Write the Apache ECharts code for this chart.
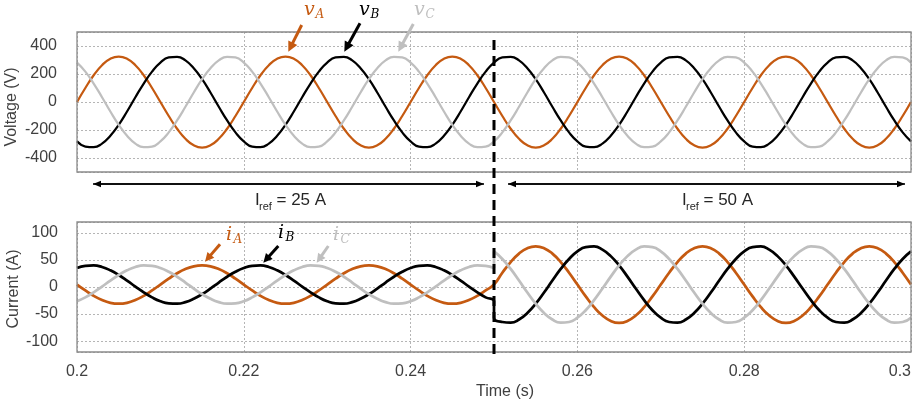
<!DOCTYPE html>
<html><head><meta charset="utf-8">
<script src="https://cdn.jsdelivr.net/npm/echarts@6/dist/echarts.min.js"></script>
<style>html,body{margin:0;padding:0;background:#fff}#c{width:914px;height:405px}</style>
</head><body><div id="c"></div>
<script>
// ---------- data ----------
const time = [0.200,0.201,0.202,0.203,0.204,0.205,0.206,0.207,0.208,0.209,
 0.210,0.211,0.212,0.213,0.214,0.215,0.216,0.217,0.218,0.219,
 0.220,0.221,0.222,0.223,0.224,0.225,0.226,0.227,0.228,0.229,
 0.230,0.231,0.232,0.233,0.234,0.235,0.236,0.237,0.238,0.239,
 0.240,0.241,0.242,0.243,0.244,0.245,0.246,0.247,0.248,0.249,
 0.250,0.251,0.252,0.253,0.254,0.255,0.256,0.257,0.258,0.259,
 0.260,0.261,0.262,0.263,0.264,0.265,0.266,0.267,0.268,0.269,
 0.270,0.271,0.272,0.273,0.274,0.275,0.276,0.277,0.278,0.279,
 0.280,0.281,0.282,0.283,0.284,0.285,0.286,0.287,0.288,0.289,
 0.290,0.291,0.292,0.293,0.294,0.295,0.296,0.297,0.298,0.299,
 0.300];

const vA = [0,100,191,263,309,325,309,263,191,100,0,-100,-191,-263,-309,-325,-309,-263,-191,-100,
 0,100,191,263,309,325,309,263,191,100,0,-100,-191,-263,-309,-325,-309,-263,-191,-100,
 0,100,191,263,309,325,309,263,191,100,0,-100,-191,-263,-309,-325,-309,-263,-191,-100,
 0,100,191,263,309,325,309,263,191,100,0,-100,-191,-263,-309,-325,-309,-263,-191,-100,
 0,100,191,263,309,325,309,263,191,100,0,-100,-191,-263,-309,-325,-309,-263,-191,-100,
 0];
const vB = [-281,-318,-323,-297,-241,-163,-68,34,132,217,281,318,323,297,241,163,68,-34,-132,-217,
 -281,-318,-323,-297,-241,-163,-68,34,132,217,281,318,323,297,241,163,68,-34,-132,-217,
 -281,-318,-323,-297,-241,-163,-68,34,132,217,281,318,323,297,241,163,68,-34,-132,-217,
 -281,-318,-323,-297,-241,-163,-68,34,132,217,281,318,323,297,241,163,68,-34,-132,-217,
 -281,-318,-323,-297,-241,-163,-68,34,132,217,281,318,323,297,241,163,68,-34,-132,-217,
 -281];
const vC = [281,217,132,34,-68,-163,-241,-297,-323,-318,-281,-217,-132,-34,68,163,241,297,323,318,
 281,217,132,34,-68,-163,-241,-297,-323,-318,-281,-217,-132,-34,68,163,241,297,323,318,
 281,217,132,34,-68,-163,-241,-297,-323,-318,-281,-217,-132,-34,68,163,241,297,323,318,
 281,217,132,34,-68,-163,-241,-297,-323,-318,-281,-217,-132,-34,68,163,241,297,323,318,
 281,217,132,34,-68,-163,-241,-297,-323,-318,-281,-217,-132,-34,68,163,241,297,323,318,
 281];

// currents: before the step (0.200..0.250) and after the step (0.250..0.300)
const currentTimePre = time.slice(0, 51);
const currentTimePost = time.slice(50);
const iApre = [4.5,-6.4,-16.3,-24.1,-29.2,-30.9,-29.2,-24.1,-16.3,-6.4,
 4.5,15.4,25.3,33.1,38.2,39.9,38.2,33.1,25.3,15.4,
 4.5,-6.4,-16.3,-24.1,-29.2,-30.9,-29.2,-24.1,-16.3,-6.4,
 4.5,15.4,25.3,33.1,38.2,39.9,38.2,33.1,25.3,15.4,
 4.5,-6.4,-16.3,-24.1,-29.2,-30.9,-29.2,-24.1,-16.3,-6.4,
 4.5];
const iApost = [4.5,26.3,46.1,61.7,71.7,75.2,71.7,61.7,46.1,26.3,
 4.5,-17.3,-37.1,-52.7,-62.7,-66.2,-62.7,-52.7,-37.1,-17.3,
 4.5,26.3,46.1,61.7,71.7,75.2,71.7,61.7,46.1,26.3,
 4.5,-17.3,-37.1,-52.7,-62.7,-66.2,-62.7,-52.7,-37.1,-17.3,
 4.5,26.3,46.1,61.7,71.7,75.2,71.7,61.7,46.1,26.3,
 4.5];
const iBpre = [35.2,39.1,39.7,36.9,30.8,22.2,11.9,0.8,-9.9,-19.2,
 -26.2,-30.1,-30.7,-27.9,-21.8,-13.2,-2.9,8.2,18.9,28.2,
 35.2,39.1,39.7,36.9,30.8,22.2,11.9,0.8,-9.9,-19.2,
 -26.2,-30.1,-30.7,-27.9,-21.8,-13.2,-2.9,8.2,18.9,28.2,
 35.2,39.1,39.7,36.9,30.8,22.2,11.9,0.8,-9.9,-19.2,
 -26.2];
const iBpost = [-56.7,-64.6,-65.8,-60.1,-48.0,-30.9,-10.2,11.9,33.3,51.8,
 65.7,73.6,74.8,69.1,57.0,39.9,19.2,-2.9,-24.3,-42.8,
 -56.7,-64.6,-65.8,-60.1,-48.0,-30.9,-10.2,11.9,33.3,51.8,
 65.7,73.6,74.8,69.1,57.0,39.9,19.2,-2.9,-24.3,-42.8,
 -56.7,-64.6,-65.8,-60.1,-48.0,-30.9,-10.2,11.9,33.3,51.8,
 65.7];
const iCpre = [-26.2,-19.2,-9.9,0.8,11.9,22.2,30.8,36.9,39.7,39.1,
 35.2,28.2,18.9,8.2,-2.9,-13.2,-21.8,-27.9,-30.7,-30.1,
 -26.2,-19.2,-9.9,0.8,11.9,22.2,30.8,36.9,39.7,39.1,
 35.2,28.2,18.9,8.2,-2.9,-13.2,-21.8,-27.9,-30.7,-30.1,
 -26.2,-19.2,-9.9,0.8,11.9,22.2,30.8,36.9,39.7,39.1,
 35.2];
const iCpost = [65.7,51.8,33.3,11.9,-10.2,-30.9,-48.0,-60.1,-65.8,-64.6,
 -56.7,-42.8,-24.3,-2.9,19.2,39.9,57.0,69.1,74.8,73.6,
 65.7,51.8,33.3,11.9,-10.2,-30.9,-48.0,-60.1,-65.8,-64.6,
 -56.7,-42.8,-24.3,-2.9,19.2,39.9,57.0,69.1,74.8,73.6,
 65.7,51.8,33.3,11.9,-10.2,-30.9,-48.0,-60.1,-65.8,-64.6,
 -56.7];
const stepTime = 0.25;
const xTicks = {min: 0.2, max: 0.3, interval: 0.02};
const vRange = {min: -500, max: 500};
const iRange = {min: -120, max: 120};

// ---------- styling ----------
const C_A = '#C55A11', C_B = '#000000', C_C = '#BFBFBF';
const TXT = '#404040';
const SANS = 'Liberation Sans', MATH = 'DejaVu Serif';
const G1 = {left: 77, top: 32, width: 834, height: 140};
const G2 = {left: 77, top: 222, width: 834, height: 130};

const split = {show: true, lineStyle: {color: '#b5b5b5', type: [2, 2], width: 1}};
const lab = {fontFamily: SANS, fontSize: 16, color: TXT};

function pairs(xs, ys) { return xs.map((x, i) => [x, ys[i]]); }
const tI = currentTimePre.concat(currentTimePost);

function lineSeries(name, data, color, g, w) {
  return {name, type: 'line', xAxisIndex: g, yAxisIndex: g, data, smooth: true,
    showSymbol: false, symbol: 'none', silent: true,
    lineStyle: {color, width: w}, itemStyle: {color}};
}

const option = {
  animation: false,
  backgroundColor: '#fff',
  grid: [Object.assign({}, G1), Object.assign({}, G2)],
  xAxis: [
    Object.assign({gridIndex: 0, type: 'value', axisLine: {show: false}, axisTick: {show: false},
      axisLabel: {show: false}, splitLine: split}, xTicks),
    Object.assign({gridIndex: 1, type: 'value', axisLine: {show: false}, axisTick: {show: false},
      axisLabel: Object.assign({margin: 12, alignMaxLabel: 'right',
        formatter: v => String(parseFloat(v.toFixed(3)))}, lab), splitLine: split}, xTicks)
  ],
  yAxis: [
    Object.assign({gridIndex: 0, type: 'value', axisLine: {show: false}, axisTick: {show: false},
      axisLabel: Object.assign({margin: 20, formatter: v => Math.abs(v) >= 500 ? '' : String(v)}, lab),
      splitLine: split}, vRange),
    Object.assign({gridIndex: 1, type: 'value', axisLine: {show: false}, axisTick: {show: false},
      axisLabel: Object.assign({margin: 19, formatter: v => Math.abs(v) >= 120 ? '' : String(v)}, lab),
      splitLine: split}, iRange)
  ],
  series: [
    lineSeries('vA', pairs(time, vA), C_A, 0, 2.25),
    lineSeries('vB', pairs(time, vB), C_B, 0, 2.25),
    lineSeries('vC', pairs(time, vC), C_C, 0, 2.25),
    lineSeries('iA', pairs(tI, iApre.concat(iApost)), C_A, 1, 2.75),
    lineSeries('iB', pairs(tI, iBpre.concat(iBpost)), C_B, 1, 2.75),
    lineSeries('iC', pairs(tI, iCpre.concat(iCpost)), C_C, 1, 2.75)
  ]
};

const chart = echarts.init(document.getElementById('c'), null, {renderer: 'canvas'});
chart.setOption(option);

// ---------- annotations ----------
function arrow(x1, y1, x2, y2, color, lw, L, W) {
  const dx = x2 - x1, dy = y2 - y1, len = Math.hypot(dx, dy);
  const ux = dx / len, uy = dy / len, nx = -uy, ny = ux;
  const bx = x2 - ux * L, by = y2 - uy * L;
  return [
    {type: 'line', z: 110, silent: true, shape: {x1, y1, x2: bx + ux, y2: by + uy},
      style: {stroke: color, lineWidth: lw}},
    {type: 'polygon', z: 110, silent: true,
      shape: {points: [[x2, y2], [bx + nx * W, by + ny * W], [bx - nx * W, by - ny * W]]},
      style: {fill: color}}
  ];
}
function dblArrow(xa, xb, y, color) {
  return arrow(xb, y, xa, y, color, 1.5, 8, 3.2).concat(arrow(xa, y, xb, y, color, 1.5, 8, 3.2));
}
function txt(x, y, text, size, family, color, opts) {
  return Object.assign({type: 'text', x, y, z: 120, silent: true,
    style: Object.assign({text, fontSize: size, fontFamily: family, fill: color,
      textAlign: 'left', align: 'left', textVerticalAlign: 'middle', verticalAlign: 'middle'},
      (opts && opts.style) || {})}, (opts && opts.el) || {});
}
function mathLbl(x, yMain, main, sub, color, size, subSize, xOff, yOff) {
  return [
    txt(x, yMain, main, size, MATH, color, {style: {fontStyle: 'italic'}}),
    txt(x + xOff, yMain + yOff, sub, subSize, MATH, color, {style: {fontStyle: 'italic'}})
  ];
}
function irefLbl(x, y, rest) {
  return [
    txt(x, y, 'I', 17, SANS, '#262626'),
    txt(x + 4, y + 6.5, 'ref', 11, SANS, '#262626'),
    txt(x + 21.5, y, rest, 17, SANS, '#262626')
  ];
}

const xs = chart.convertToPixel({xAxisIndex: 0}, stepTime);
const g = [];
// plot frames
[G1, G2].forEach(G => g.push({type: 'rect', z: 100, silent: true,
  shape: {x: G.left, y: G.top, width: G.width, height: G.height},
  style: {fill: null, stroke: '#8a8a8a', lineWidth: 1.3}}));
// step marker
g.push({type: 'line', z: 115, silent: true, shape: {x1: xs, y1: 40, x2: xs, y2: 356},
  style: {stroke: '#000', lineWidth: 3, lineDash: [10, 6]}});
// I_ref span arrows
g.push(...dblArrow(93, 484, 184, '#000'));
g.push(...dblArrow(508, 905, 184, '#000'));
g.push(...irefLbl(255, 200, '= 25 A'));
g.push(...irefLbl(682, 200, '= 50 A'));
// axis titles
g.push(txt(12, 107, 'Voltage (V)', 16, SANS, TXT,
  {style: {textAlign: 'center', align: 'center'}, el: {rotation: Math.PI / 2}}));
g.push(txt(13.5, 289, 'Current (A)', 16, SANS, TXT,
  {style: {textAlign: 'center', align: 'center'}, el: {rotation: Math.PI / 2}}));
g.push(txt(476, 392, 'Time (s)', 16, SANS, TXT));
// voltage labels + arrows
g.push(...mathLbl(304, 10, 'v', 'A', C_A, 19, 12, 11.5, 5));
g.push(...mathLbl(359, 10, 'v', 'B', C_B, 19, 12, 11.5, 5));
g.push(...mathLbl(414, 10, 'v', 'C', C_C, 19, 12, 11.5, 5));
g.push(...arrow(301.7, 25, 288.3, 51.7, C_A, 3, 10, 5));
g.push(...arrow(360, 23.3, 344.3, 51.7, C_B, 3, 10, 5));
g.push(...arrow(413.3, 24, 398.3, 51.7, C_C, 3, 10, 5));
// current labels + arrows
g.push(...mathLbl(226, 235, 'i', 'A', C_A, 19, 12, 7.5, 5));
g.push(...mathLbl(278, 233, 'i', 'B', C_B, 19, 12, 7.5, 5));
g.push(...mathLbl(333, 235, 'i', 'C', C_C, 19, 12, 7.5, 5));
g.push(...arrow(220, 244.3, 205, 261.7, C_A, 3, 9, 4.5));
g.push(...arrow(278.3, 246, 263.3, 262.7, C_B, 3, 9, 4.5));
g.push(...arrow(328.3, 246, 316.7, 262.7, C_C, 3, 9, 4.5));

chart.setOption({graphic: {elements: g}});
</script>
</body></html>
